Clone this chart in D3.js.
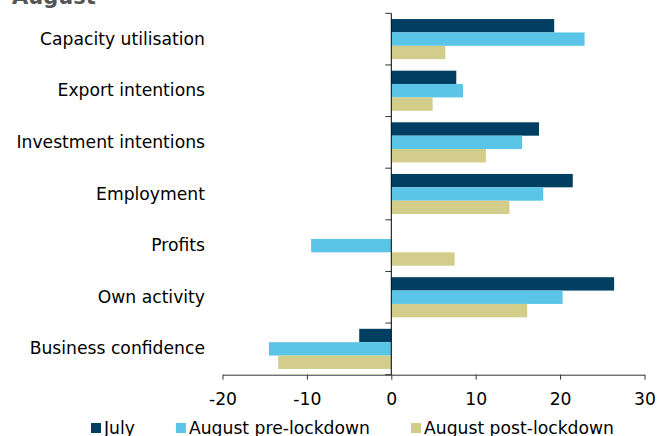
<!DOCTYPE html>
<html>
<head>
<meta charset="utf-8">
<script src="https://cdn.jsdelivr.net/npm/d3@7"></script>
<style>
  body { margin: 0; background: #fff; }
  svg { display: block; font-family: "DejaVu Sans", Verdana, sans-serif; }
</style>
</head>
<body>
<svg id="chart"></svg>
<script>
var categories = ["Capacity utilisation", "Export intentions", "Investment intentions",
	"Employment", "Profits", "Own activity", "Business confidence"]
var seriesNames = ["July", "August pre-lockdown", "August post-lockdown"]
var july = [19.3, 7.7, 17.5, 21.5, 0, 26.4, -3.8]
var augPre = [22.9, 8.5, 15.5, 18.0, -9.5, 20.3, -14.5]
var augPost = [6.4, 4.9, 11.2, 14.0, 7.5, 16.1, -13.4]
var xTicks = [-20, -10, 0, 10, 20, 30]
var colors = ["#003f62", "#5bc5e7", "#d3cd8b"]

var dim = { width: 657, height: 436 }
var fontSize = 17.2

var svg = d3.select('#chart')
	.attr('width', dim.width)
	.attr('height', dim.height)

var data = categories.map((c, i) => ({
	cat: c,
	vals: [july[i], augPre[i], augPost[i]]
}))

var x = d3.scaleLinear()
	.domain([-20, 30])
	.range([222.5, 644.5])

var y0 = d3.scaleBand()
	.domain(categories)
	.range([13.3, 374.7])

var y1 = d3.scaleBand()
	.domain(seriesNames)
	.range([0, y0.bandwidth()])
	.paddingOuter(0.43)

// title (cut off at top)
svg.append('text')
	.attr('x', 12)
	.attr('y', 4)
	.attr('font-size', 21)
	.attr('font-weight', 'bold')
	.attr('fill', '#555')
	.text('August')

// bars
var groups = svg.selectAll('g.cat')
	.data(data)
	.enter()
	.append('g')
		.attr('class', 'cat')
		.attr('transform', d => 'translate(0,' + y0(d.cat) + ')')

groups.selectAll('rect')
	.data(d => d.vals.map((v, j) => ({ v: v, s: seriesNames[j], j: j })))
	.enter()
	.append('rect')
		.attr('x', d => x(Math.min(0, d.v)))
		.attr('y', d => y1(d.s))
		.attr('width', d => Math.abs(x(d.v) - x(0)))
		.attr('height', y1.bandwidth())
		.attr('fill', d => colors[d.j])

// x axis
var xAxis = svg.append('g')
	.attr('transform', 'translate(0,' + y0.range()[1] + ')')
	.call(d3.axisBottom(x).tickValues(xTicks).tickFormat(d => String(d))
		.tickSize(5).tickSizeOuter(0).tickPadding(13))
xAxis.select('.domain').attr('stroke', '#333')
xAxis.selectAll('.tick line').attr('stroke', '#333')
xAxis.selectAll('.tick text')
	.attr('font-size', fontSize)
	.attr('font-family', '"DejaVu Sans", Verdana, sans-serif')
	.attr('fill', '#000')

// category labels
var yLab = svg.append('g')
	.attr('transform', 'translate(205,0)')
	.call(d3.axisLeft(y0).tickSize(0).tickPadding(0))
yLab.select('.domain').remove()
yLab.selectAll('.tick text')
	.attr('font-size', fontSize)
	.attr('font-family', '"DejaVu Sans", Verdana, sans-serif')
	.attr('fill', '#000')

// zero axis with band boundary ticks
var bounds = categories.map(c => y0(c)).concat([y0.range()[1]])
svg.selectAll('line.bound')
	.data(bounds)
	.enter()
	.append('line')
		.attr('class', 'bound')
		.attr('x1', x(0) - 6)
		.attr('x2', x(0))
		.attr('y1', d => d)
		.attr('y2', d => d)
		.attr('stroke', '#333')
svg.append('line')
	.attr('x1', x(0)).attr('x2', x(0))
	.attr('y1', y0.range()[0]).attr('y2', y0.range()[1])
	.attr('stroke', '#000')

// legend
var legend = svg.append('g')
var lx = 91
seriesNames.forEach((s, i) => {
	legend.append('rect')
		.attr('x', lx)
		.attr('y', 423)
		.attr('width', 10)
		.attr('height', 10)
		.attr('fill', colors[i])
	var t = legend.append('text')
		.attr('x', lx + 13)
		.attr('y', 433.5)
		.attr('font-size', fontSize)
		.text(s)
	lx += 13 + t.node().getComputedTextLength() + 41
})
</script>
</body>
</html>
